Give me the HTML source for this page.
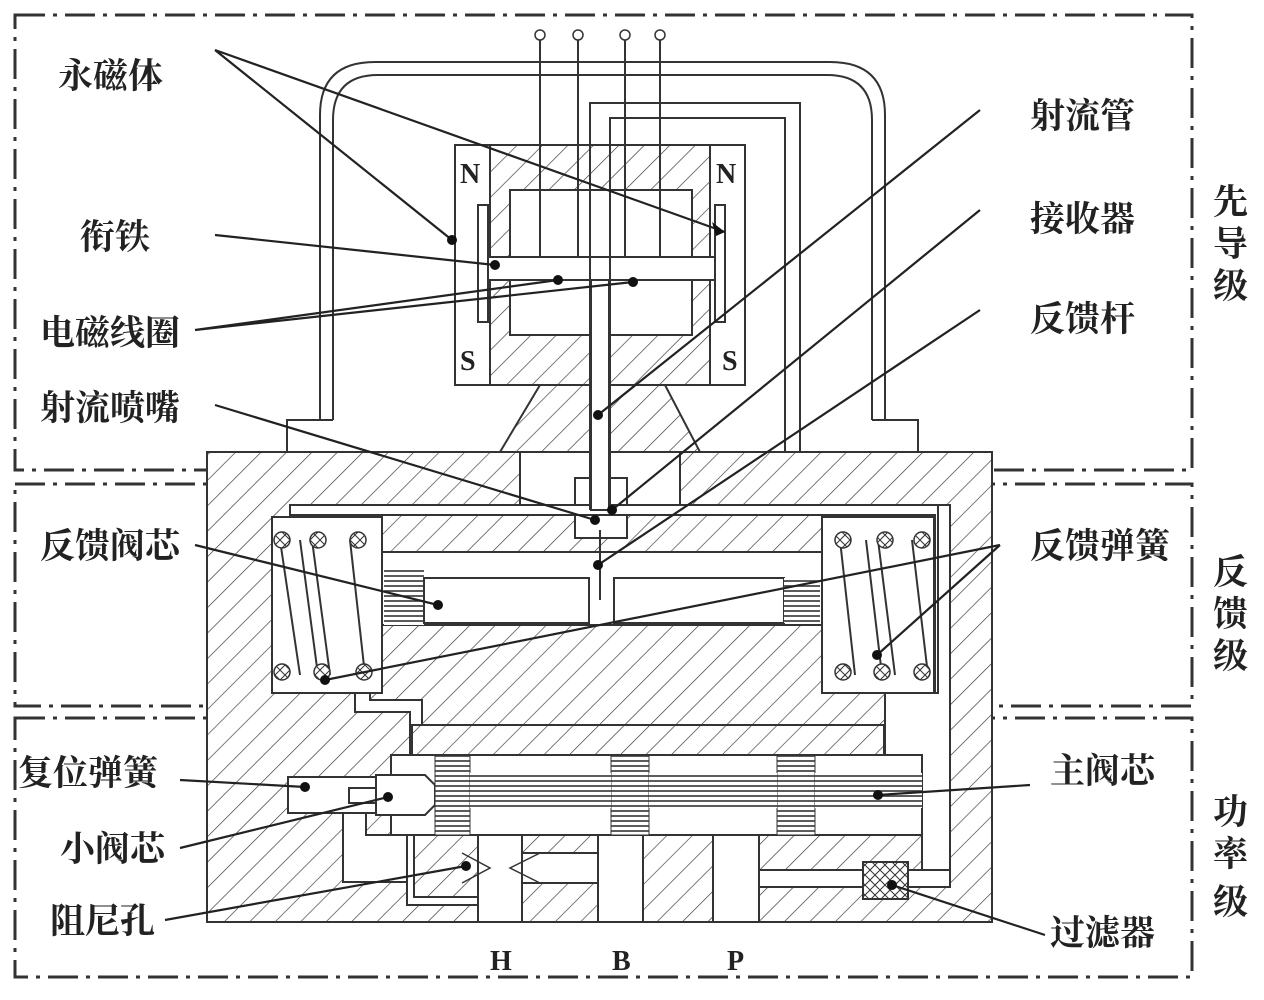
<!DOCTYPE html>
<html><head><meta charset="utf-8"><style>
html,body{margin:0;padding:0;background:#fff;}
svg text{font-family:"Liberation Serif","Noto Serif CJK SC",serif;font-weight:bold;fill:#222;}
</style></head><body>
<svg width="1264" height="995" viewBox="0 0 1264 995" xmlns="http://www.w3.org/2000/svg">
<defs>
<pattern id="h" patternUnits="userSpaceOnUse" width="18" height="18" patternTransform="rotate(45)">
<rect width="18" height="18" fill="#fff"/><line x1="0" y1="0" x2="0" y2="18" stroke="#333" stroke-width="1.3"/></pattern>
<pattern id="hz" patternUnits="userSpaceOnUse" width="6" height="5"><rect width="6" height="5" fill="#fff"/><line x1="0" y1="1" x2="6" y2="1" stroke="#333" stroke-width="1.6"/></pattern>
<pattern id="x" patternUnits="userSpaceOnUse" width="10" height="10"><rect width="10" height="10" fill="#fff"/><path d="M0 0L10 10M10 0L0 10" stroke="#333" stroke-width="1"/></pattern>
</defs>
<g fill="none" stroke="#333" stroke-width="3" stroke-dasharray="30 8 4 8">
<rect x="15" y="15" width="1177" height="455"/>
<rect x="15" y="484" width="1177" height="222"/>
<rect x="15" y="718" width="1177" height="259"/>
</g>
<g fill="none" stroke="#333" stroke-width="2">
<path d="M320 420 V115 Q320 62 375 62 H830 Q885 62 885 115 V420"/>
<path d="M333 420 V120 Q333 75 378 75 H827 Q872 75 872 120 V420"/>
<path d="M287 452 V420 H333 M872 420 H918 V452"/>
</g>
<rect x="207" y="452" width="785" height="470" fill="url(#h)" stroke="#333" stroke-width="2"/>
<g fill="#fff" stroke="#333" stroke-width="2">
<rect x="520" y="452" width="160" height="60"/>
<rect x="575" y="478" width="52" height="60"/>
<rect x="272" y="517" width="110" height="176"/>
<rect x="822" y="517" width="112" height="176"/>
<rect x="382" y="552" width="440" height="73"/>
<path d="M290 505 H950 V700 H935 V515 H290 Z" />
<path d="M355 693 V712 H410 V755 H422 V700 H370 V693 Z"/>
<path d="M885 693 V755 H922 V870 H950 V505 H938 V693 Z"/>
</g>
<rect x="384" y="570" width="40" height="55" fill="url(#hz)"/>
<rect x="424" y="578" width="165" height="45" fill="#fff" stroke="#333" stroke-width="2"/>
<rect x="614" y="578" width="170" height="45" fill="#fff" stroke="#333" stroke-width="2"/>
<rect x="784" y="578" width="36" height="45" fill="url(#hz)"/>
<g fill="none" stroke="#333" stroke-width="2">
<path d="M280 540 L300 675 M312 540 L330 675 M350 540 L365 675 M300 540 L318 675"/>
<path d="M840 540 L855 675 M878 540 L895 675 M912 540 L928 675 M866 540 L882 675"/>
</g>
<g fill="url(#x)" stroke="#333" stroke-width="1.5">
<circle cx="282" cy="540" r="8"/><circle cx="318" cy="540" r="8"/><circle cx="358" cy="540" r="8"/>
<circle cx="282" cy="672" r="8"/><circle cx="322" cy="672" r="8"/><circle cx="364" cy="672" r="8"/>
<circle cx="843" cy="540" r="8"/><circle cx="885" cy="540" r="8"/><circle cx="922" cy="540" r="8"/>
<circle cx="843" cy="672" r="8"/><circle cx="882" cy="672" r="8"/><circle cx="922" cy="672" r="8"/>
</g>
<g fill="#fff" stroke="#333" stroke-width="2">
<rect x="391" y="755" width="531" height="80"/>
<rect x="288" y="777" width="88" height="36"/>
<path d="M376 775 H425 L435 785 V805 L425 815 H376 Z"/>
<rect x="349" y="788" width="27" height="15"/>
<path d="M343 813 V882 H407 V835 H366 V813 Z"/>
<path d="M407 835 H414 V897 H478 V905 H407 Z"/>
<rect x="478" y="835" width="44" height="87"/>
<rect x="522" y="853" width="76" height="30"/>
<rect x="598" y="835" width="45" height="87"/>
<rect x="713" y="835" width="46" height="87"/>
<rect x="759" y="870" width="191" height="17"/>
</g>
<rect x="412" y="725" width="472" height="30" fill="url(#h)" stroke="#333" stroke-width="2"/>
<rect x="435" y="755" width="35" height="80" fill="url(#hz)" stroke="#333"/>
<rect x="611" y="755" width="38" height="80" fill="url(#hz)" stroke="#333"/>
<rect x="777" y="755" width="38" height="80" fill="url(#hz)" stroke="#333"/>
<rect x="470" y="773" width="141" height="35" fill="url(#hz)"/>
<rect x="649" y="773" width="128" height="35" fill="url(#hz)"/>
<rect x="815" y="773" width="107" height="35" fill="url(#hz)"/>
<rect x="863" y="862" width="45" height="37" fill="url(#x)" stroke="#333" stroke-width="2"/>
<path d="M462 853 L490 868 L462 883 M540 853 L510 868 L540 883" fill="none" stroke="#333" stroke-width="1.5"/>
<path d="M540 385 H665 L700 452 H500 Z" fill="url(#h)" stroke="#333" stroke-width="2"/>
<rect x="490" y="145" width="220" height="240" fill="url(#h)" stroke="#333" stroke-width="2"/>
<rect x="455" y="145" width="35" height="240" fill="#fff" stroke="#333" stroke-width="2"/>
<rect x="710" y="145" width="35" height="240" fill="#fff" stroke="#333" stroke-width="2"/>
<rect x="510" y="190" width="182" height="145" fill="#fff" stroke="#333" stroke-width="2"/>
<rect x="478" y="205" width="10" height="117" fill="#fff" stroke="#333" stroke-width="2"/>
<rect x="715" y="205" width="10" height="117" fill="#fff" stroke="#333" stroke-width="2"/>
<rect x="488" y="257" width="227" height="23" fill="#fff" stroke="#333" stroke-width="2"/>
<g fill="none" stroke="#333" stroke-width="2">
<path d="M590 510 V103 H800 V452 M610 510 V118 H785 V452"/>
<path d="M540 40 V257 M578 40 V257 M625 40 V257 M660 40 V257"/>
<path d="M600 530 V600"/>
</g>
<rect x="591" y="280" width="18" height="230" fill="#fff" stroke="#333" stroke-width="2"/>
<g fill="#fff" stroke="#333" stroke-width="1.5">
<circle cx="540" cy="35" r="5"/><circle cx="578" cy="35" r="5"/><circle cx="625" cy="35" r="5"/><circle cx="660" cy="35" r="5"/>
</g>
<g font-size="28">
<text x="460" y="183">N</text><text x="716" y="183">N</text>
<text x="460" y="370">S</text><text x="722" y="370">S</text>
<text x="490" y="970">H</text><text x="612" y="970">B</text><text x="727" y="970">P</text>
</g>
<g stroke="#222" stroke-width="2.2" fill="none">
<path d="M215 50 L452 240 M215 50 L725 232"/>
<path d="M215 235 L495 265"/>
<path d="M195 330 L558 280 M195 330 L633 282"/>
<path d="M215 405 L595 520"/>
<path d="M980 110 L598 415"/>
<path d="M980 210 L612 510"/>
<path d="M980 310 L598 565"/>
<path d="M195 545 L438 605"/>
<path d="M1000 545 L325 680 M1000 545 L877 655"/>
<path d="M180 780 L305 787"/>
<path d="M180 848 L388 797"/>
<path d="M165 920 L466 866"/>
<path d="M1030 785 L878 795"/>
<path d="M1045 935 L892 885"/>
</g>
<g fill="#111">
<circle cx="452" cy="240" r="5"/><circle cx="495" cy="265" r="5"/><circle cx="558" cy="280" r="5"/><circle cx="633" cy="282" r="5"/>
<circle cx="595" cy="520" r="5"/><circle cx="598" cy="415" r="5"/><circle cx="612" cy="510" r="5"/><circle cx="598" cy="565" r="5"/>
<circle cx="438" cy="605" r="5"/><circle cx="325" cy="680" r="5"/><circle cx="877" cy="655" r="5"/>
<circle cx="305" cy="787" r="5"/><circle cx="388" cy="797" r="5"/><circle cx="466" cy="866" r="5"/><circle cx="878" cy="795" r="5"/><circle cx="892" cy="885" r="5"/>
<path d="M725 232 L712 222 L716 236 Z"/>
</g>
<g font-size="35">
<text x="58" y="88">永磁体</text>
<text x="80" y="249">衔铁</text>
<text x="40" y="345">电磁线圈</text>
<text x="40" y="420">射流喷嘴</text>
<text x="40" y="558">反馈阀芯</text>
<text x="18" y="785">复位弹簧</text>
<text x="60" y="861">小阀芯</text>
<text x="50" y="933">阻尼孔</text>
<text x="1030" y="128">射流管</text>
<text x="1030" y="231">接收器</text>
<text x="1030" y="331">反馈杆</text>
<text x="1030" y="558">反馈弹簧</text>
<text x="1050" y="783">主阀芯</text>
<text x="1050" y="945">过滤器</text>
</g>
<g font-size="35">
<text x="1213" y="214">先</text><text x="1213" y="256">导</text><text x="1213" y="298">级</text>
<text x="1213" y="584">反</text><text x="1213" y="626">馈</text><text x="1213" y="668">级</text>
<text x="1213" y="824">功</text><text x="1213" y="866">率</text><text x="1213" y="914">级</text>
</g>
</svg>
</body></html>
